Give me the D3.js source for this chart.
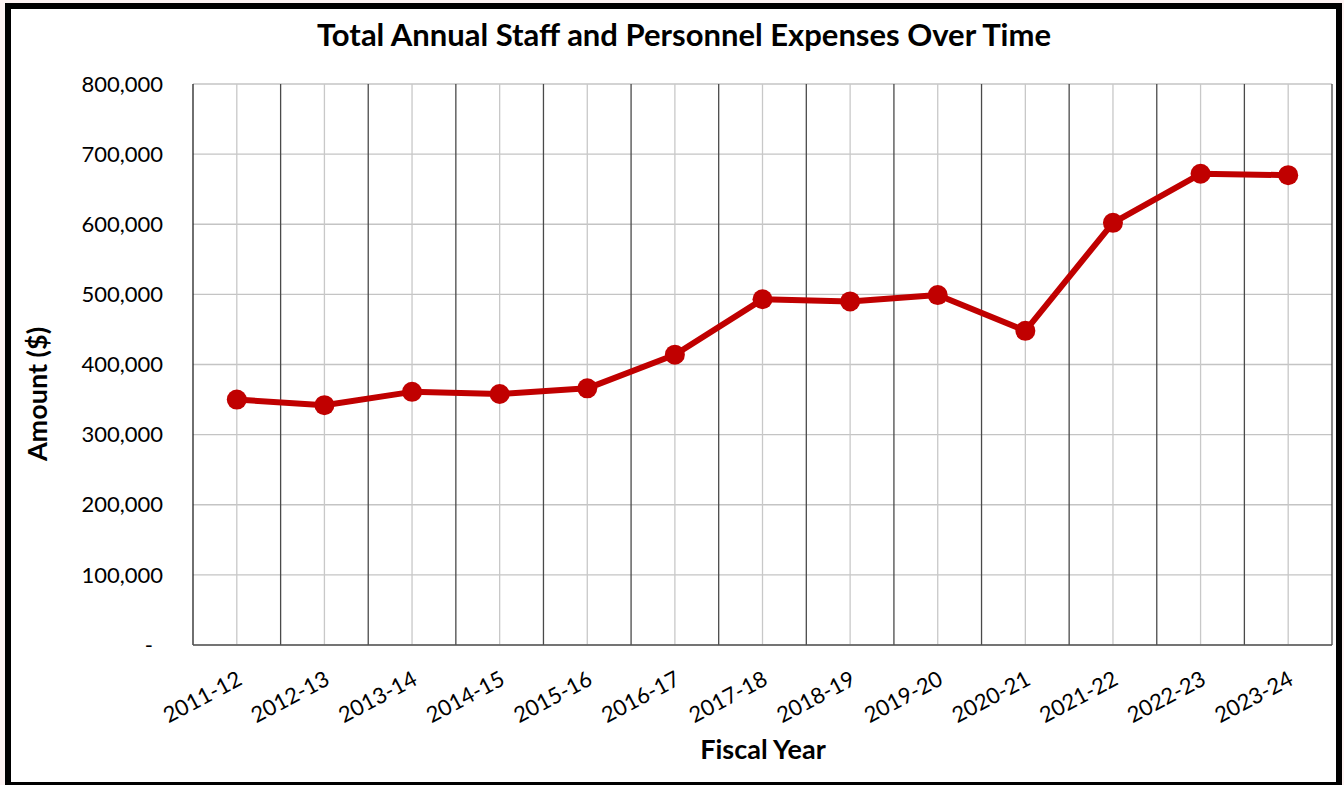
<!DOCTYPE html>
<html>
<head>
<meta charset="utf-8">
<script src="https://cdn.jsdelivr.net/npm/d3@7"></script>
<style>
  html, body { margin: 0; padding: 0; background: #fff; }
  svg { display: block; }
  text { font-family: Lato, "Open Sans", sans-serif; fill: #000; }
</style>
</head>
<body>
<svg id="chart" width="1344" height="785"></svg>
<script>
// Fiscal years and total staff/personnel expenses ($)
const fiscalYears = ["2011-12","2012-13","2013-14","2014-15","2015-16","2016-17","2017-18",
                     "2018-19","2019-20","2020-21","2021-22","2022-23","2023-24"];
const expenses = [350000, 342000, 361000, 358000, 366000, 414000, 493000,
                  490000, 499000, 448000, 602000, 672000, 670000];
const yTicks = [0, 100000, 200000, 300000, 400000, 500000, 600000, 700000, 800000];

const svg = d3.select("#chart");
const W = 1344, H = 785;
const m = { left: 193, right: 1332, top: 84, bottom: 645 };

// outer frame
svg.append("rect").attr("x", 0).attr("y", 0).attr("width", W).attr("height", H).attr("fill", "#fdf3f3");
svg.append("rect").attr("x", 8).attr("y", 6).attr("width", W - 13).attr("height", H - 6)
  .attr("fill", "#fff").attr("stroke", "#000").attr("stroke-width", 6);

const x = d3.scaleBand().domain(fiscalYears).range([m.left, m.right]).padding(0);
const y = d3.scaleLinear().domain([0, 800000]).range([m.bottom, m.top]);

const g = svg.append("g");

// horizontal gridlines
g.selectAll("line.hgrid").data(yTicks).join("line")
  .attr("x1", m.left).attr("x2", m.right)
  .attr("y1", d => y(d)).attr("y2", d => y(d))
  .attr("stroke", "#c4c4c4").attr("stroke-width", 1.3);

// minor verticals at category centres
g.selectAll("line.vminor").data(fiscalYears).join("line")
  .attr("x1", d => x(d) + x.bandwidth() / 2).attr("x2", d => x(d) + x.bandwidth() / 2)
  .attr("y1", m.top).attr("y2", m.bottom)
  .attr("stroke", "#c8c8c8").attr("stroke-width", 1.3);

// major verticals at category boundaries
const bounds = fiscalYears.map(d => x(d)).concat([m.right]);
g.selectAll("line.vmajor").data(bounds).join("line")
  .attr("x1", d => d).attr("x2", d => d)
  .attr("y1", m.top).attr("y2", m.bottom)
  .attr("stroke", (d, i) => i === 0 ? "#222" : "#4a4a4a").attr("stroke-width", 1.3);

// x-axis baseline
g.append("line").attr("x1", m.left).attr("x2", m.right).attr("y1", m.bottom).attr("y2", m.bottom)
  .attr("stroke", "#555").attr("stroke-width", 1.5);

// y tick labels
g.selectAll("text.ytick").data(yTicks).join("text")
  .attr("x", d => d === 0 ? 153 : 163)
  .attr("y", d => y(d))
  .attr("dy", "0.35em")
  .attr("text-anchor", "end")
  .style("font-size", "22px")
  .text(d => d === 0 ? "-" : d3.format(",")(d));

// x tick labels, rotated
g.selectAll("text.xtick").data(fiscalYears).join("text")
  .attr("transform", d => `translate(${x(d) + x.bandwidth() / 2 + 3},${m.bottom + 32}) rotate(-28)`)
  .attr("text-anchor", "end")
  .attr("dy", "0.35em")
  .style("font-size", "22px")
  .text(d => d);

// data line
const line = d3.line().x(d => x(d.year) + x.bandwidth() / 2).y(d => y(d.value));
const pts = fiscalYears.map((yr, i) => ({ year: yr, value: expenses[i] }));
g.append("path").datum(pts).attr("d", line)
  .attr("fill", "none").attr("stroke", "#c00000").attr("stroke-width", 6).attr("stroke-linejoin", "round");
g.selectAll("circle.pt").data(pts).join("circle")
  .attr("cx", d => x(d.year) + x.bandwidth() / 2).attr("cy", d => y(d.value))
  .attr("r", 10).attr("fill", "#c00000");

// titles
svg.append("text").attr("x", 684).attr("y", 35).attr("dy", "0.35em").attr("text-anchor", "middle")
  .style("font-size", "31px").style("font-weight", "bold")
  .text("Total Annual Staff and Personnel Expenses Over Time");
svg.append("text").attr("x", 763).attr("y", 750).attr("dy", "0.35em").attr("text-anchor", "middle")
  .style("font-size", "27px").style("font-weight", "bold").text("Fiscal Year");
svg.append("text").attr("transform", "translate(38,394) rotate(-90)").attr("dy", "0.35em").attr("text-anchor", "middle")
  .style("font-size", "27px").style("font-weight", "bold").text("Amount ($)");
</script>
</body>
</html>
